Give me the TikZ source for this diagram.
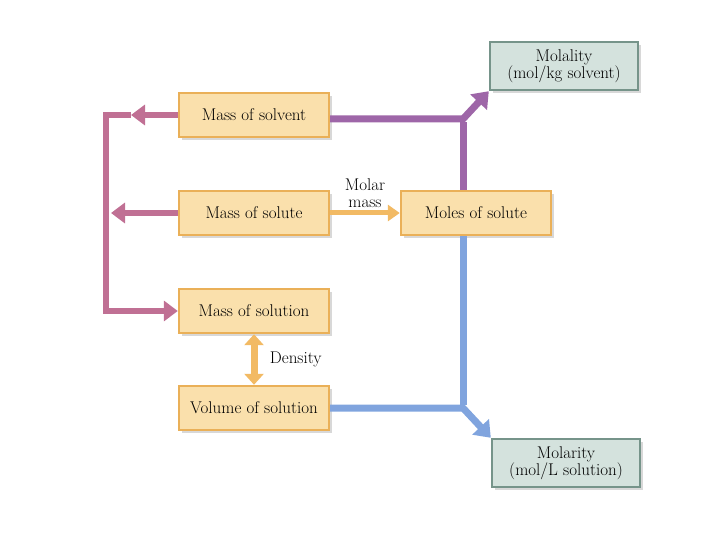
\documentclass[tikz,border=0pt]{standalone}
\usepackage{fontspec}
\usepackage{xcolor}
\usepackage{tikz}
\usetikzlibrary{arrows.meta, positioning, shadows, calc}
\definecolor{boxfill}{RGB}{250,224,172}
\definecolor{boxedge}{RGB}{234,176,88}
\definecolor{unitfill}{RGB}{212,226,221}
\definecolor{unitedge}{RGB}{118,148,138}
\definecolor{massline}{RGB}{192,112,148}
\definecolor{molaline}{RGB}{158,102,168}
\definecolor{moleline}{RGB}{128,164,222}
\definecolor{convline}{RGB}{242,186,100}

\begin{document}
\begin{tikzpicture}[
  x=1pt, y=-1pt,
  font=\fontsize{17}{18}\selectfont,
  qty/.style={rectangle, draw=boxedge, line width=2.4pt, fill=boxfill,
    minimum width=150pt, minimum height=44pt, inner sep=2pt,
    drop shadow={shadow xshift=3pt, shadow yshift=-3pt, fill=black!30}},
  unit/.style={rectangle, draw=unitedge, line width=2.4pt, fill=unitfill,
    minimum width=148pt, minimum height=48pt, inner sep=2pt, align=center,
    font=\fontsize{17}{17}\selectfont,
    drop shadow={shadow xshift=3pt, shadow yshift=-3pt, fill=black!30}},
  masspipe/.style={line width=6pt, draw=massline},
  masstip/.style={masspipe, -{Triangle[width=20pt, length=14pt]}},
  molapipe/.style={line width=7pt, draw=molaline},
  molepipe/.style={line width=7pt, draw=moleline},
  conv/.style={line width=5pt, draw=convline, -{Triangle[width=16pt, length=12pt]}},
  convboth/.style={line width=7pt, draw=convline, {Triangle[width=19pt, length=11pt]}-{Triangle[width=19pt, length=11pt]}}
]
  \useasboundingbox (0,0) rectangle (720,540);

  % quantities
  \node[qty] (solvent) at (254,115) {Mass of solvent};
  \node[qty] (solute) at (254,213) {Mass of solute};
  \node[qty] (solution) at (254,311) {Mass of solution};
  \node[qty] (volume) at (254,408) {Volume of solution};
  \node[qty] (moles) at (476,213) {Moles of solute};

  % units
  \node[unit] (molality) at (564,66) {Molality\\(mol/kg solvent)};
  \node[unit] (molarity) at (566,463) {Molarity\\(mol/L solution)};

  % mass of solvent + mass of solute = mass of solution
  \coordinate (tl) at (131,115);
  \coordinate (ml) at (111,213);
  \coordinate (ctop) at (106,115);
  \coordinate (cbot) at (106,311);
  \draw[masstip, line join=miter] (tl) -- (ctop) -- (cbot) -- (solution.west);
  \draw[masstip] (solvent.west) -- (tl);
  \draw[masstip] (solute.west) -- (ml);

  % conversions
  \draw[conv] (solute.east) -- node[above=2pt, align=center, inner sep=1pt, font=\fontsize{17}{17}\selectfont] {Molar\\mass} (moles.west);
  \draw[convboth] (solution.south) -- node[right=9pt] {Density} (volume.north);

  % to molality
  \coordinate (jtop) at (463,119);
  \draw[molapipe] (moles.north -| jtop) -- ([yshift=-3pt]jtop);
  \draw[molapipe, line join=miter, -{Triangle[width=22pt, length=15pt]}] ([yshift=-4pt]solvent.east) -- (jtop) -- (molality.south west);

  % to molarity
  \coordinate (jbot) at (463,408);
  \draw[molepipe] (moles.south -| jbot) -- ([yshift=3pt]jbot);
  \draw[molepipe, line join=miter, -{Triangle[width=22pt, length=15pt]}] (volume.east) -- (jbot) -- (molarity.north west);
\end{tikzpicture}
\end{document}
